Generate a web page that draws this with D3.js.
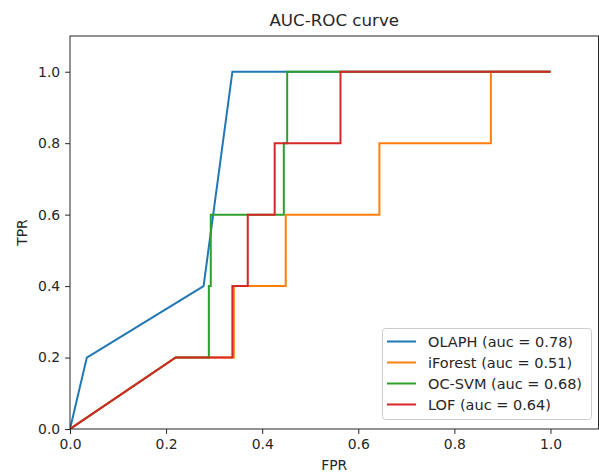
<!DOCTYPE html>
<html><head><meta charset="utf-8">
<script src="https://cdn.jsdelivr.net/npm/d3@7"></script>
<style>body{margin:0;background:#fff}svg{display:block;font-family:"DejaVu Sans",sans-serif}</style>
</head><body><svg id="c" width="599" height="473"></svg>
<script>
const seriesNames = ["OLAPH (auc = 0.78)", "iForest (auc = 0.51)", "OC-SVM (auc = 0.68)", "LOF (auc = 0.64)"];
const colors = ["#1f77b4", "#ff7f0e", "#2ca02c", "#d62728"];
const olaphFPR = [0, 0.035, 0.278, 0.338, 1.0];
const olaphTPR = [0, 0.2, 0.4, 1.0, 1.0];
const iforestFPR = [0, 0.22, 0.341, 0.341, 0.449, 0.449, 0.644, 0.644, 0.876, 0.876, 1.0];
const iforestTPR = [0, 0.2, 0.2, 0.4, 0.4, 0.6, 0.6, 0.8, 0.8, 1.0, 1.0];
const ocsvmFPR = [0, 0.22, 0.289, 0.289, 0.293, 0.293, 0.445, 0.445, 0.452, 0.452, 1.0];
const ocsvmTPR = [0, 0.2, 0.2, 0.4, 0.4, 0.6, 0.6, 0.8, 0.8, 1.0, 1.0];
const lofFPR = [0, 0.22, 0.338, 0.338, 0.370, 0.370, 0.426, 0.426, 0.563, 0.563, 1.0];
const lofTPR = [0, 0.2, 0.2, 0.4, 0.4, 0.6, 0.6, 0.8, 0.8, 1.0, 1.0];
const xTicks = [0.0, 0.2, 0.4, 0.6, 0.8, 1.0];
const yTicks = [0.0, 0.2, 0.4, 0.6, 0.8, 1.0];

const series = [[olaphFPR, olaphTPR], [iforestFPR, iforestTPR], [ocsvmFPR, ocsvmTPR], [lofFPR, lofTPR]];
const L = 70, R = 598.5, T = 36, B = 429;
const x = d3.scaleLinear().domain([0, 1.1]).range([L, R]);
const y = d3.scaleLinear().domain([0, 1.1]).range([B, T]);
const svg = d3.select("#c");

const clip = svg.append("clipPath").attr("id", "clp").append("rect")
  .attr("x", L).attr("y", T).attr("width", R - L).attr("height", B - T);

const line = d3.line().x(d => x(d[0])).y(d => y(d[1]));
const g = svg.append("g").attr("clip-path", "url(#clp)");
series.forEach((s, i) => {
  const pts = s[0].map((v, j) => [v, s[1][j]]);
  g.append("path").attr("d", line(pts)).attr("fill", "none")
    .attr("stroke", colors[i]).attr("stroke-width", 2).attr("stroke-linejoin", "miter");
});

const fmt = d3.format(".1f");
const xa = svg.append("g").attr("transform", `translate(0,${B})`)
  .call(d3.axisBottom(x).tickValues(xTicks).tickFormat(fmt).tickSize(4.9).tickPadding(4.9));
const ya = svg.append("g").attr("transform", `translate(${L},0)`)
  .call(d3.axisLeft(y).tickValues(yTicks).tickFormat(fmt).tickSize(4.9).tickPadding(4.9));
[xa, ya].forEach(a => {
  a.select(".domain").remove();
  a.selectAll("text").attr("font-size", 13.9).attr("font-family", "DejaVu Sans").attr("fill", "#262626");
  a.selectAll("line").attr("stroke", "#262626").attr("stroke-width", 1);
});

svg.append("rect").attr("x", L).attr("y", T).attr("width", R - L).attr("height", B - T)
  .attr("fill", "none").attr("stroke", "#262626").attr("stroke-width", 1);

svg.append("text").attr("x", (L + R) / 2).attr("y", 26).attr("text-anchor", "middle")
  .attr("font-size", 16.7).attr("fill", "#262626").text("AUC-ROC curve");
svg.append("text").attr("x", (L + R) / 2).attr("y", 470).attr("text-anchor", "middle")
  .attr("font-size", 13.9).attr("fill", "#262626").text("FPR");
svg.append("text").attr("transform", `translate(27,${(T + B) / 2}) rotate(-90)`).attr("text-anchor", "middle")
  .attr("font-size", 13.9).attr("fill", "#262626").text("TPR");

const lg = svg.append("g");
lg.append("rect").attr("x", 382.5).attr("y", 328.5).attr("width", 209).attr("height", 91).attr("rx", 3)
  .attr("fill", "#fff").attr("fill-opacity", 0.8).attr("stroke", "#ccc").attr("stroke-width", 1);
seriesNames.forEach((n, i) => {
  const yy = 341.5 + i * 21;
  lg.append("line").attr("x1", 387).attr("x2", 416).attr("y1", yy).attr("y2", yy)
    .attr("stroke", colors[i]).attr("stroke-width", 2);
  lg.append("text").attr("x", 428).attr("y", yy + 5).attr("font-size", 14.5).attr("fill", "#262626").text(n);
});
</script></body></html>
